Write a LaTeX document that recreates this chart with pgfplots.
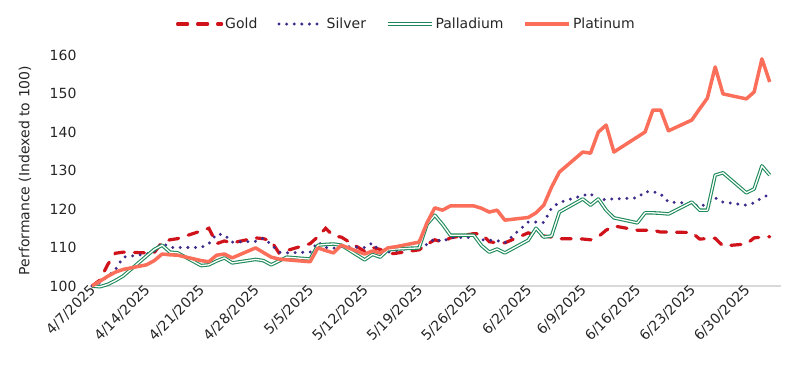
\documentclass[border=0pt]{standalone}
\usepackage{fontspec}
\setmainfont{DejaVu Sans}
\usepackage{pgfplots}
\pgfplotsset{compat=1.18}
\usepackage{pgfplotstable}
\definecolor{goldc}{HTML}{D0121B}
\definecolor{silverc}{HTML}{3F2A8C}
\definecolor{pallc}{HTML}{1E8A5A}
\definecolor{platc}{HTML}{FA6E5A}
\definecolor{basec}{HTML}{D9D9D9}
\definecolor{txtc}{HTML}{262626}

\pgfplotstableread{
d gold silver pall plat
0 100 100 100 100
1 101.5 100.8 99.8 101.2
2 105.5 102.5 100.4 102.5
3 108.5 104.2 101.4 103.6
4 108.8 107.5 102.6 104.3
7 108.6 108.3 107.8 105.5
8 108.7 109.0 109.5 106.6
9 111.4 111.2 110.6 108.3
10 112.0 110.0 108.8 108.1
11 112.3 110.0 108.6 108.0
14 114.3 110.0 105.3 106.6
15 115.0 111.0 105.5 106.3
16 111.0 113.5 106.5 108.0
17 111.7 113.3 107.3 108.3
18 111.2 111.4 106.0 107.3
21 112.5 111.6 106.9 109.9
22 112.3 112.4 106.6 108.7
23 111.7 110.8 105.5 107.5
24 108.6 108.8 106.5 107.0
25 109.2 108.6 107.5 106.8
28 111.0 108.8 107.0 106.3
29 112.8 111.4 110.6 109.9
30 115.0 110.0 110.8 109.2
31 113.0 109.8 110.9 108.6
32 112.7 110.3 110.6 110.6
35 109.0 110.0 106.8 108.3
36 110.0 111.2 108.2 109.1
37 109.5 108.8 107.5 108.6
38 108.3 108.8 109.4 109.9
39 108.5 109.2 109.6 110.2
42 109.4 110.2 109.9 111.4
43 110.8 110.8 116.0 116.4
44 112.0 112.3 118.4 120.3
45 111.4 111.5 116.0 119.7
46 112.5 112.6 113.2 120.8
49 113.6 112.6 113.2 120.8
50 113.5 112.0 110.5 120.2
51 111.5 111.9 108.8 119.2
52 111.2 111.8 109.6 119.7
53 111.2 111.2 108.6 117.1
56 113.8 116.6 111.9 117.8
57 113.2 116.6 115.0 119.0
58 113.0 116.5 112.7 121.0
59 112.7 120.3 113.0 125.7
60 112.3 121.7 119.2 129.6
63 112.2 123.5 122.6 134.8
64 112.0 124.0 121.0 134.5
65 112.8 122.0 122.6 140.0
66 114.5 122.6 119.7 141.8
67 115.6 122.6 117.7 134.8
70 114.5 122.9 116.4 138.7
71 114.5 124.5 119.0 140.0
72 114.5 124.5 119.0 145.7
73 114.0 123.9 118.9 145.7
74 114.0 121.8 118.7 140.3
77 113.9 121.5 121.8 143.1
78 112.2 120.5 119.7 146.0
79 112.3 121.5 119.7 148.8
80 112.4 122.9 128.8 156.9
81 110.4 121.8 129.4 149.9
84 110.9 121.0 124.2 148.6
85 112.5 121.6 125.2 150.4
86 112.7 122.9 131.2 159.0
87 112.8 123.8 128.8 153.0
}\metals

\begin{document}
\begin{tikzpicture}
\begin{axis}[
  at={(0pt,0pt)}, anchor=south west,
  scale only axis, width=689.4pt, height=231pt,
  xmin=0, xmax=88.5, ymin=100, ymax=160,
  clip=false,
  axis lines*=left,
  y axis line style={draw=none},
  x axis line style={draw=basec, line width=1.3pt},
  tick style={draw=none},
  major tick length=0pt,
  xtick={0,7,...,84},
  xticklabels={4/7/2025,4/14/2025,4/21/2025,4/28/2025,5/5/2025,5/12/2025,5/19/2025,5/26/2025,6/2/2025,6/9/2025,6/16/2025,6/23/2025,6/30/2025},
  /pgf/number format/assume math mode=true,
  tick label style={font=\fontsize{14}{16}\selectfont, text=txtc},
  xticklabel style={rotate=45, anchor=east, yshift=-2pt, xshift=3pt},
  ytick={100,110,...,160},
  yticklabel style={xshift=-12pt},
  ylabel={Performance (Indexed to 100)},
  ylabel style={at={(axis description cs:-0.0972,0.5)}, anchor=center, font=\fontsize{14}{16}\selectfont, text=txtc},
  legend style={at={(axis description cs:0.456,1.134)}, anchor=center, draw=none, fill=none,
    legend columns=4, font=\fontsize{14}{16}\selectfont, text=txtc,
    /tikz/every even column/.append style={column sep=18pt},
    /tikz/every odd column/.append style={column sep=0pt}},
  legend image code/.code={\draw[#1] (0pt,0pt) -- (44pt,0pt);},
]
\addplot[goldc, line width=3.2pt, line cap=round, dash pattern=on 10pt off 10pt] table[x=d, y=gold] {\metals};
\addlegendentry{Gold}
\addplot[silverc, line width=3.3pt, line cap=round, dash pattern=on 0pt off 7.6pt] table[x=d, y=silver] {\metals};
\addlegendentry{Silver}
\addplot[draw=pallc, double=white, double distance=1.3pt, line width=1.1pt, line join=round] table[x=d, y=pall] {\metals};
\addlegendentry{Palladium}
\addplot[platc, line width=3.5pt, line join=round] table[x=d, y=plat] {\metals};
\addlegendentry{Platinum}
\end{axis}
\pgfresetboundingbox
\path[use as bounding box] (-92pt,-91pt) rectangle (708pt,286pt);
\end{tikzpicture}
\end{document}
